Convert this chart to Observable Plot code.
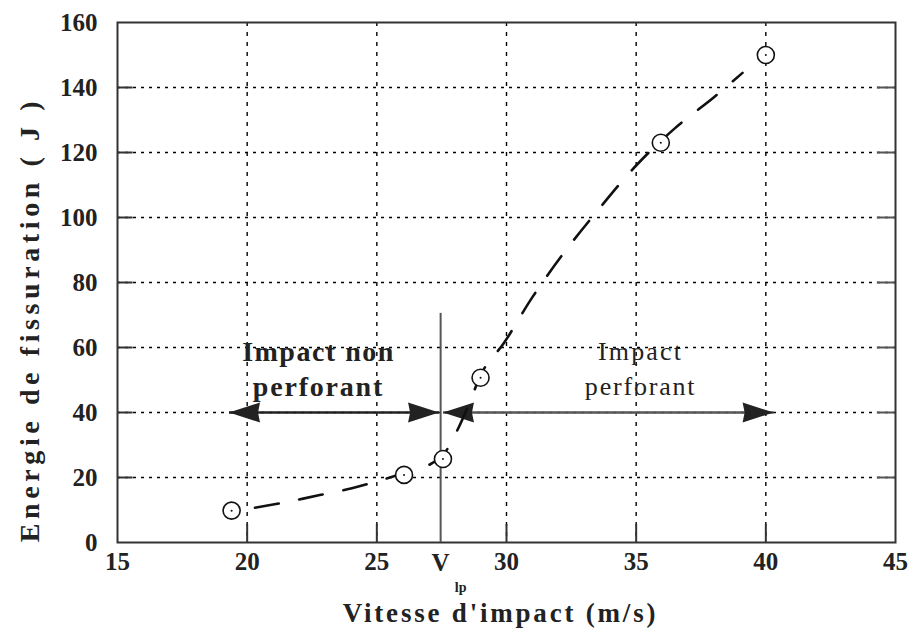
<!DOCTYPE html>
<html><head><meta charset="utf-8">
<script src="https://cdn.jsdelivr.net/npm/d3@7"></script>
<script src="https://cdn.jsdelivr.net/npm/@observablehq/plot@0.6"></script>
<style>
body{margin:0;background:#fff;}
#chart svg{font-family:"Liberation Serif","Times New Roman",serif;background:#fff;}
</style></head><body><div id="chart"></div>
<script>
// axis ticks
const xTicks = [15, 20, 25, 30, 35, 40, 45];
const yTicks = [0, 20, 40, 60, 80, 100, 120, 140, 160];
// measured points
const vitesse = [19.4, 26.05, 27.55, 29.0, 35.95, 40.0];
const energie = [9.8, 20.8, 25.7, 50.7, 123, 150];
// fitted dashed curve
const curveX = [20.3, 21.5, 22.8, 24.0, 25.0, 26.0, 27.0, 27.6, 28.15, 28.6, 29.1, 29.9, 31.0, 32.2, 33.5, 35.0, 36.5, 38.0, 39.1];
const curveY = [10.7, 12.4, 14.6, 16.6, 18.8, 21.2, 23.8, 27.5, 35.3, 43.5, 53, 61.4, 75.5, 89, 102, 116, 127.5, 137, 144.5];
// limit perforation velocity
const vlp = 27.46;
const vlpTop = 70.5;
// regime arrows
const arrowY = 40;
const arrowStart = [19.3, 27.55];
const arrowEnd = [27.4, 40.3];
const arrowColor = ["#222", "#555"];
// annotation texts
const nonLines = ["Impact non", "perforant"];
const perfLines = ["Impact", "perforant"];
const labelYs = [58.7, 47.9];
const xLabel = "Vitesse d'impact (m/s)";
const yLabel = "Energie de fissuration ( J )";

const points = vitesse.map((v, i) => ({x: v, y: energie[i]}));
const curve = curveX.map((v, i) => ({x: v, y: curveY[i]}));
const arrows = arrowStart.map((s, i) => ({x1: s, x2: arrowEnd[i], c: arrowColor[i]}));
const nonData = nonLines.map((t, i) => ({t, y: labelYs[i]}));
const perfData = perfLines.map((t, i) => ({t, y: labelYs[i]}));

const headLeft = {draw(ctx) {ctx.moveTo(0, 0); ctx.lineTo(31, -10); ctx.lineTo(29, 0); ctx.lineTo(31, 10); ctx.closePath();}};
const headRight = {draw(ctx) {ctx.moveTo(0, 0); ctx.lineTo(-31, -10); ctx.lineTo(-29, 0); ctx.lineTo(-31, 10); ctx.closePath();}};

const inner = (a) => a.slice(1, -1);

const chart = Plot.plot({
  width: 913,
  height: 635,
  marginLeft: 117,
  marginRight: 18,
  marginTop: 22,
  marginBottom: 93,
  x: {domain: [15, 45]},
  y: {domain: [0, 160]},
  marks: [
    Plot.ruleX(inner(xTicks), {stroke: "#000", strokeWidth: 1.4, strokeDasharray: "4,6"}),
    Plot.ruleY(inner(yTicks), {stroke: "#000", strokeWidth: 1.4, strokeDasharray: "3,5"}),
    Plot.ruleX(inner(xTicks), {y1: 0, y2: 5.5, stroke: "#333", strokeWidth: 2}),
    Plot.ruleY(inner(yTicks), {x1: 15, x2: 15.6, stroke: "#333", strokeWidth: 2}),
    Plot.ruleY(inner(yTicks), {x1: 44.3, x2: 45, stroke: "#555", strokeWidth: 2}),
    Plot.frame({stroke: "#333", strokeWidth: 2}),
    Plot.axisX({ticks: xTicks, tickSize: 0, tickPadding: 10, fontSize: 25, fontWeight: "bold", label: null, tickFormat: d => d, fill: "#222"}),
    Plot.axisY({ticks: yTicks, tickSize: 0, tickPadding: 20, fontSize: 25, fontWeight: "bold", label: null, tickFormat: d => d, fill: "#222"}),
    Plot.ruleX([vlp], {y1: 0, y2: vlpTop, stroke: "#555", strokeWidth: 2}),
    Plot.link(arrows, {x1: "x1", x2: "x2", y1: arrowY, y2: arrowY, stroke: "c", strokeWidth: 2.5}),
    Plot.dot(arrows, {x: "x1", y: arrowY, symbol: headLeft, fill: "#222", stroke: null}),
    Plot.dot(arrows, {x: "x2", y: arrowY, symbol: headRight, fill: "#222", stroke: null}),
    Plot.line(curve, {x: "x", y: "y", curve: "catmull-rom", stroke: "#111", strokeWidth: 2.6, strokeDasharray: "24,21"}),
    Plot.dot(points, {x: "x", y: "y", r: 8.5, fill: "#fff", stroke: "#111", strokeWidth: 1.6}),
    Plot.dot(points, {x: "x", y: "y", r: 1, fill: "#111", stroke: null}),
    Plot.text(nonData, {x: 22.75, y: "y", text: "t", fontSize: 28, fontWeight: "bold", fill: "#222"}),
    Plot.text(perfData, {x: 35.17, y: "y", text: "t", fontSize: 26, fill: "#222"}),
    Plot.text(["V"], {x: vlp, y: 0, dy: 20, fontSize: 25, fontWeight: "bold", fill: "#222"}),
    Plot.text(["lp"], {x: vlp, y: 0, dx: 20, dy: 45, fontSize: 14, fontWeight: "bold", fill: "#222"}),
    Plot.text([yLabel], {frameAnchor: "left", textAnchor: "middle", lineAnchor: "middle", rotate: -90, dx: -87, dy: 37, fontSize: 28, fontWeight: "bold", fill: "#222"}),
    Plot.text([xLabel], {frameAnchor: "bottom", textAnchor: "middle", lineAnchor: "middle", dx: -6, dy: 71, fontSize: 27, fontWeight: "bold", fill: "#222"})
  ]
});
const spacing = new Map([[xLabel, "2.8px"], [yLabel, "4.6px"], ["Impact non", "1.5px"], ["perforant", "1.8px"], ["Impact", "2.2px"]]);
d3.select(chart).selectAll("text").each(function () {
  const s = spacing.get(this.textContent);
  if (s) this.style.letterSpacing = s;
});
document.getElementById("chart").appendChild(chart);
</script>
</body></html>
